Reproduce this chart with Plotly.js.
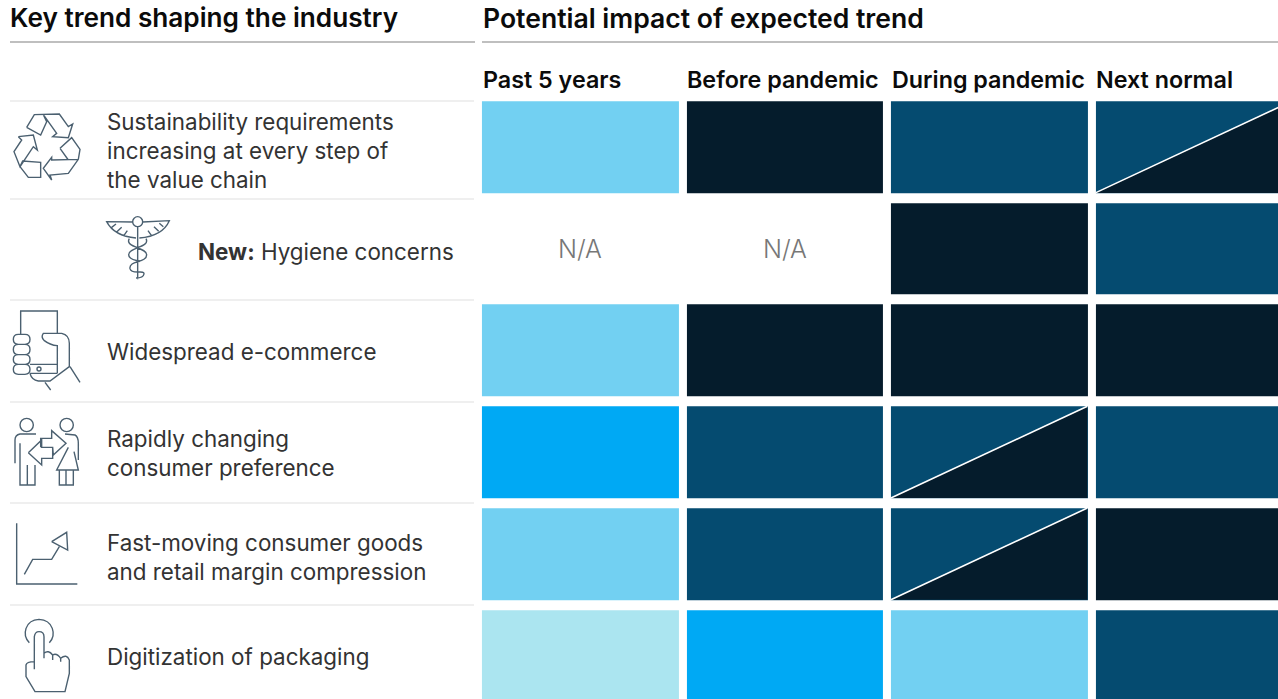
<!DOCTYPE html>
<html>
<head>
<meta charset="utf-8">
<script src="https://cdn.plot.ly/plotly-3.0.1.min.js"></script>
<style>html,body{margin:0;padding:0;background:#fff;overflow:hidden}</style>
</head>
<body>
<div id="chart" style="width:1278px;height:699px"></div>
<script>
// Impact level per trend: 1 = lowest, 5 = highest, null = not applicable
const columnHeaders = ['Past 5 years', 'Before pandemic', 'During pandemic', 'Next normal'];
const past5Years     = [2, null, 2, 3, 2, 1];
const beforePandemic = [5, null, 5, 4, 4, 3];
const duringPandemic = [4, 5, 5, 4, 4, 2];
const nextNormal     = [4, 4, 5, 4, 5, 4];

// Cells that straddle two levels: the lower triangle takes this level
const duringPandemicSplit = [null, null, null, 5, 5, null];
const nextNormalSplit     = [5, null, null, null, null, null];

const trendLabels = [
  'Sustainability requirements<br>increasing at every step of<br>the value chain',
  '<b>New:</b> Hygiene concerns',
  'Widespread e-commerce',
  'Rapidly changing<br>consumer preference',
  'Fast-moving consumer goods<br>and retail margin compression',
  'Digitization of packaging'
];
const levelColors = ['#ABE5F0', '#72D0F2', '#00A9F4', '#054B70', '#051C2C'];

const W = 1278, H = 699;
const FONT = 'Inter, "Liberation Sans", sans-serif';
const INK = '#4B6070';

// Geometry of the grid, in pixels
const colPitch = 204.5, rowPitch = 101.7, colGap = 8, rowGap = 10;
const gridLeft = 477.9, gridTop = 96.2;

const columns = [past5Years, beforePandemic, duringPandemic, nextNormal];
const splits = [null, null, duringPandemicSplit, nextNormalSplit];
const rowIdx = trendLabels.map((_, i) => i);
const colIdx = columnHeaders.map((_, i) => i);
const z = rowIdx.map(r => columns.map(c => c[r]));

const stepScale = [];
levelColors.forEach((c, i) => {
  stepScale.push([i / levelColors.length, c], [(i + 1) / levelColors.length, c]);
});

const traces = [{
  type: 'heatmap', x: colIdx, y: rowIdx, z: z, xgap: colGap, ygap: rowGap,
  zmin: 0.5, zmax: 5.5, colorscale: stepScale, showscale: false, hoverinfo: 'skip'
}];

// Split cells: a filled lower triangle and a white diagonal
const hw = 0.5 - colGap / 2 / colPitch, hh = 0.5 - rowGap / 2 / rowPitch;
splits.forEach((series, c) => {
  if (!series) return;
  series.forEach((level, r) => {
    if (level === null) return;
    traces.push({
      type: 'scatter', mode: 'none', fill: 'toself', fillcolor: levelColors[level - 1],
      x: [c - hw, c + hw, c + hw, c - hw], y: [r + hh, r + hh, r - hh, r + hh],
      hoverinfo: 'skip', showlegend: false
    });
    traces.push({
      type: 'scatter', mode: 'lines', line: {color: '#fff', width: 1.6},
      x: [c - hw, c + hw], y: [r + hh, r - hh], hoverinfo: 'skip', showlegend: false
    });
  });
});

// Pixel-space overlay carrying rules, labels and icons
const ruleRows = [101, 199, 300, 402, 503, 605];
const ruleX = [], ruleY = [];
ruleRows.forEach(y => { ruleX.push(10, 474, null); ruleY.push(y, y, null); });
traces.push({
  type: 'scatter', mode: 'lines', xaxis: 'x2', yaxis: 'y2', x: ruleX, y: ruleY,
  line: {color: '#EFEFEF', width: 2}, hoverinfo: 'skip', showlegend: false
});
traces.push({
  type: 'scatter', mode: 'lines', xaxis: 'x2', yaxis: 'y2',
  x: [10, 475, null, 482, 1278], y: [42, 42, null, 42, 42],
  line: {color: '#AAAAAA', width: 1.6}, hoverinfo: 'skip', showlegend: false
});

function pxText(text, x, y, size, color, weight, anchor) {
  return {
    text, x, y, xref: 'x2', yref: 'y2', xanchor: anchor || 'left', yanchor: 'middle',
    align: 'left', showarrow: false, borderpad: 0, borderwidth: 0,
    font: {family: FONT, size, color, weight: weight || 400}
  };
}

const labelY = [150, 251, 351, 453, 557, 656.5];
const labelX = [107, 198, 107, 107, 107, 107];
const annotations = [
  pxText('Key trend shaping the industry', 10, 17.5, 26.2, '#0B0B0B', 600),
  pxText('Potential impact of expected trend', 483, 17.5, 26.55, '#0B0B0B', 600)
];
columnHeaders.forEach((h, c) => {
  annotations.push(pxText(h, 482.7 + 204.4 * c, 79.5, 23.3, '#0B0B0B', 600));
});
trendLabels.forEach((t, r) => {
  annotations.push(pxText(t, labelX[r], labelY[r], 22.4, '#333333', 400));
});
// Not-applicable cells are labelled in place
columns.forEach((series, c) => series.forEach((v, r) => {
  if (v === null) {
    annotations.push({
      text: 'N/A', x: c, y: r, xref: 'x', yref: 'y', showarrow: false,
      font: {family: FONT, size: 25, color: '#777777', weight: 300}
    });
  }
}));

// Icons are stroked outlines, sketched at 3x and placed by their origin
function iconPath(d, ox, oy) {
  let i = 0;
  return d.replace(/-?\d+(\.\d+)?/g, n => {
    const v = parseFloat(n) / 3 + (i++ % 2 === 0 ? ox : oy);
    return v.toFixed(2);
  });
}
function circle(cx, cy, r) {
  const k = r * 0.55;
  return `M${cx - r},${cy} C${cx - r},${cy - k} ${cx - k},${cy - r} ${cx},${cy - r} ` +
         `C${cx + k},${cy - r} ${cx + r},${cy - k} ${cx + r},${cy} ` +
         `C${cx + r},${cy + k} ${cx + k},${cy + r} ${cx},${cy + r} ` +
         `C${cx - k},${cy + r} ${cx - r},${cy + k} ${cx - r},${cy} `;
}
function pill(x0, x1, y0, y1) {
  const r = (y1 - y0) / 2, m = (y0 + y1) / 2;
  return `M${x0 + r},${y0} L${x1 - r},${y0} Q${x1},${y0} ${x1},${m} Q${x1},${y1} ${x1 - r},${y1} ` +
         `L${x0 + r},${y1} Q${x0},${y1} ${x0},${m} Q${x0},${y0} ${x0 + r},${y0} `;
}
const icons = [
  { // recycling loop
    ox: 0, oy: 100,
    d: 'M80,82 L103,44 L178,42 L205,80 L218,72 L205,113 L158,110 L170,100 L130,44 ' +
       'M130,44 L140,65 L122,105 L80,82 ' +
       'M180,145 L215,113 L240,148 L235,178 L205,220 L150,225 L155,240 L130,205 L155,172 L155,180 L235,178 ' +
       'M180,145 L205,180 ' +
       'M55,110 L100,105 L112,150 L100,140 L60,200 L42,155 L65,120 L55,110 ' +
       'M60,200 L68,183 L122,187 L122,232 L85,232 L60,200'
  },
  { // caduceus
    ox: 100, oy: 210,
    d: circle(113, 35, 15) +
       'M98,36 L20,35 Q42,78 108,84 M128,36 L208,32 Q188,78 118,84 ' +
       'M35,52 L48,42 M50,66 L65,52 M72,76 L82,62 M190,50 L178,40 M176,64 L162,50 M154,76 L144,62 ' +
       'M113,50 L113,208 ' +
       'M88,86 C72,112 140,112 140,134 C140,160 86,150 90,176 C94,196 134,178 132,192 C130,204 118,204 108,204 ' +
       'M138,86 C152,112 86,112 86,134 C86,150 110,150 120,155'
  },
  { // hand holding a phone
    ox: 0, oy: 305,
    d: 'M62,90 L62,18 L172,18 L172,85 M172,120 L172,205 M90,178 L172,178 M90,205 L172,205 ' +
       circle(117, 192, 6) +
       'M172,85 L130,85 Q122,96 132,106 Q150,120 172,122 ' +
       'M172,85 L185,85 Q208,90 208,115 L208,185 L150,228 L115,228 Q95,225 90,205 ' +
       'M210,185 L240,232 M135,232 L152,255 ' +
       pill(40, 90, 88, 118) + pill(40, 90, 118, 149) + pill(40, 90, 149, 178) + pill(40, 90, 178, 208)
  },
  { // two people exchanging
    ox: 0, oy: 410,
    d: circle(80, 45, 20) + circle(200, 45, 20) +
       'M108,72 L60,72 Q45,75 45,90 L45,160 M60,100 L60,225 L105,225 L105,165 M82,225 L82,165 ' +
       'M195,72 L225,75 Q235,80 235,100 L235,150 M205,112 L170,180 L235,180 L222,125 ' +
       'M178,180 L178,225 L220,225 L220,180 M198,180 L198,225 ' +
       'M122,112 L122,85 L155,85 L155,62 L198,100 L160,135 L158,112 L125,112 ' +
       'M85,128 L125,90 L125,112 L158,112 L158,145 L125,145 L125,165 L85,128'
  },
  { // rising chart
    ox: 0, oy: 515,
    d: 'M50,25 L50,207 L232,207 M73,178 L98,133 L155,133 L178,95 M155,80 L200,52 L203,105 L155,80'
  },
  { // finger tapping
    ox: 0, oy: 610,
    d: 'M88,98 C65,75 75,30 117,28 C160,30 170,75 148,98 ' +
       'M103,178 L103,80 Q105,65 117,65 Q132,65 132,80 L132,145 ' +
       'M132,130 Q145,118 158,135 L158,150 M158,135 Q170,128 182,145 L182,155 ' +
       'M182,145 Q200,130 208,150 L208,190 L195,245 L105,245 L78,200 L78,165 Q80,155 103,155'
  }
];
const shapes = icons.map(ic => ({
  type: 'path', xref: 'x2', yref: 'y2', path: iconPath(ic.d, ic.ox, ic.oy),
  line: {color: INK, width: 1.4}, fillcolor: 'rgba(0,0,0,0)'
}));

const hidden = {visible: false, fixedrange: true, showgrid: false, zeroline: false};
const layout = {
  width: W, height: H, margin: {l: 0, r: 0, t: 0, b: 0},
  paper_bgcolor: '#fff', plot_bgcolor: 'rgba(0,0,0,0)',
  showlegend: false, hovermode: false,
  xaxis: Object.assign({}, hidden, {
    domain: [gridLeft / W, 1], range: [-0.5, -0.5 + (W - gridLeft) / colPitch], anchor: 'y'
  }),
  yaxis: Object.assign({}, hidden, {
    domain: [0, 1 - gridTop / H], range: [-0.5 + (H - gridTop) / rowPitch, -0.5], anchor: 'x'
  }),
  xaxis2: Object.assign({}, hidden, {domain: [0, 1], range: [0, W], anchor: 'y2'}),
  yaxis2: Object.assign({}, hidden, {domain: [0, 1], range: [H, 0], anchor: 'x2'}),
  annotations, shapes
};
Plotly.newPlot('chart', traces, layout, {staticPlot: true, displayModeBar: false});
</script>
</body>
</html>
